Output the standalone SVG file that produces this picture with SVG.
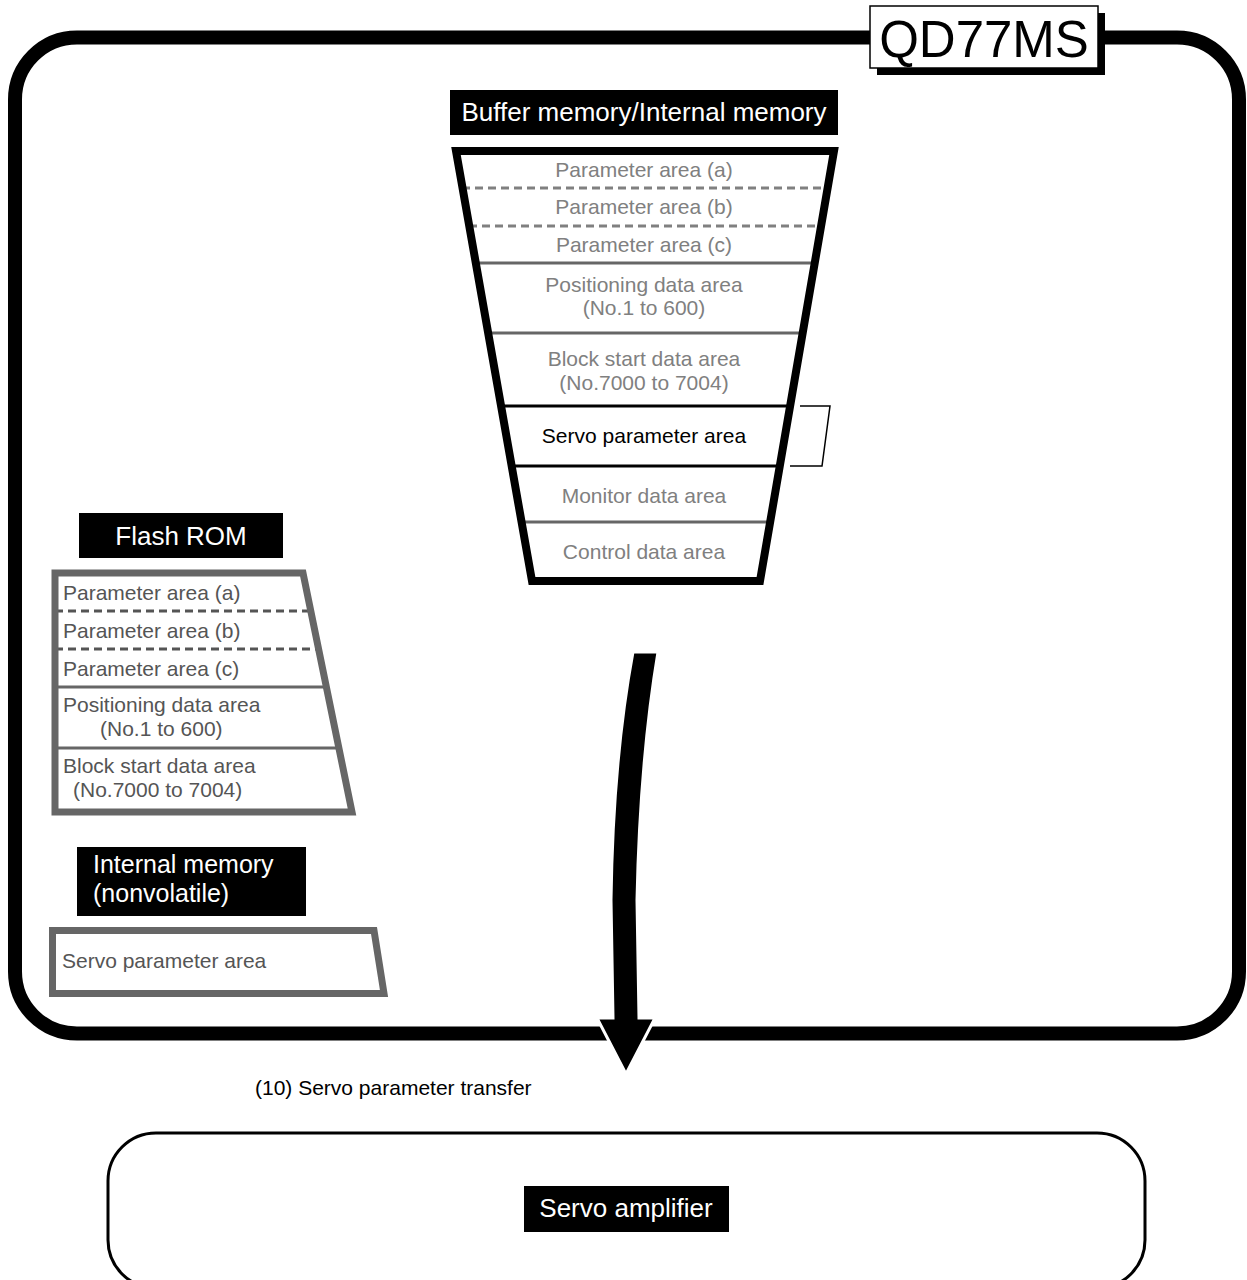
<svg xmlns="http://www.w3.org/2000/svg" width="1247" height="1280" viewBox="0 0 1247 1280">
<style>
text{font-family:"Liberation Sans",Arial,sans-serif}
.lbl{fill:#fff;font-size:26px}
.gt{fill:#808080;font-size:21px;text-anchor:middle}
.ft{fill:#555;font-size:21px}
.dash{stroke:#808080;stroke-width:3;stroke-dasharray:8,5;fill:none}
.fdash{stroke:#555;stroke-width:3;stroke-dasharray:8,5;fill:none}
.sol{stroke:#666;stroke-width:3;fill:none}
.blk{stroke:#000;stroke-width:3;fill:none}
</style>
<rect width="1247" height="1280" fill="#fff"/>
<g id="qd77ms">
<rect x="15" y="37.5" width="1224" height="996" rx="62" ry="62" fill="none" stroke="#000" stroke-width="14"/>
<rect x="877" y="13" width="228" height="62" fill="#000"/>
<rect x="870" y="6" width="228" height="62" fill="#fff" stroke="#000" stroke-width="1.5"/>
<text x="984" y="57" font-size="51" text-anchor="middle" fill="#000">QD77MS</text>
</g>
<g id="buffer">
<rect x="450" y="90" width="388" height="45" fill="#000"/>
<text class="lbl" x="644" y="121" text-anchor="middle">Buffer memory/Internal memory</text>
<line class="dash" x1="462" y1="188" x2="828" y2="188"/>
<line class="dash" x1="469" y1="226" x2="821" y2="226"/>
<line class="sol" x1="475" y1="263" x2="815" y2="263"/>
<line class="sol" x1="488" y1="333" x2="803" y2="333"/>
<line class="blk" x1="501" y1="406" x2="790" y2="406"/>
<line class="blk" x1="511" y1="466" x2="780" y2="466"/>
<line class="sol" x1="521" y1="522" x2="770" y2="522"/>
<polygon points="456,151 834,151 760,581 532,581" fill="none" stroke="#000" stroke-width="8" stroke-linejoin="miter"/>
<text class="gt" x="644" y="177">Parameter area (a)</text>
<text class="gt" x="644" y="214">Parameter area (b)</text>
<text class="gt" x="644" y="252">Parameter area (c)</text>
<text class="gt" x="644" y="292">Positioning data area</text>
<text class="gt" x="644" y="315">(No.1 to 600)</text>
<text class="gt" x="644" y="366">Block start data area</text>
<text class="gt" x="644" y="390">(No.7000 to 7004)</text>
<text x="644" y="443" font-size="21" text-anchor="middle" fill="#000">Servo parameter area</text>
<text class="gt" x="644" y="503">Monitor data area</text>
<text class="gt" x="644" y="559">Control data area</text>
<polyline points="800,406 830,406 822,466 790,466" fill="none" stroke="#000" stroke-width="1.5"/>
</g>
<g id="flashrom">
<rect x="79" y="513" width="204" height="45" fill="#000"/>
<text class="lbl" x="181" y="545" text-anchor="middle">Flash ROM</text>
<line class="fdash" x1="55" y1="611" x2="311" y2="611"/>
<line class="fdash" x1="55" y1="649" x2="319" y2="649"/>
<line class="sol" x1="55" y1="687" x2="327" y2="687"/>
<line class="sol" x1="55" y1="748" x2="339" y2="748"/>
<polygon points="55,573 303,573 352,812 55,812" fill="none" stroke="#666" stroke-width="7"/>
<text class="ft" x="63" y="600">Parameter area (a)</text>
<text class="ft" x="63" y="638">Parameter area (b)</text>
<text class="ft" x="63" y="676">Parameter area (c)</text>
<text class="ft" x="63" y="712">Positioning data area</text>
<text class="ft" x="100" y="736">(No.1 to 600)</text>
<text class="ft" x="63" y="773">Block start data area</text>
<text class="ft" x="73" y="797">(No.7000 to 7004)</text>
</g>
<g id="nonvolatile">
<rect x="77" y="847" width="229" height="69" fill="#000"/>
<text x="93" y="873" font-size="25" fill="#fff">Internal memory</text>
<text x="93" y="902" font-size="25" fill="#fff">(nonvolatile)</text>
<polygon points="52.5,930.5 374,930.5 384,993.5 52.5,993.5" fill="none" stroke="#666" stroke-width="7"/>
<text class="ft" x="62" y="968" fill="#444">Servo parameter area</text>
</g>
<g id="servoamp">
<rect x="108" y="1133" width="1037" height="155" rx="48" ry="48" fill="none" stroke="#000" stroke-width="3"/>
<rect x="524" y="1186" width="205" height="46" fill="#000"/>
<text class="lbl" x="626" y="1217" text-anchor="middle">Servo amplifier</text>
</g>
<g id="connectors">
<path d="M633,652 L658,652 Q640,760 637,900 L639,1018 L655,1018 L626,1074 L597,1018 L613,1018 L611,900 Q613,760 633,652 Z" fill="#000" stroke="#fff" stroke-width="3" stroke-linejoin="miter"/>
<text x="255" y="1095" font-size="21" fill="#000">(10) Servo parameter transfer</text>
</g>
</svg>
